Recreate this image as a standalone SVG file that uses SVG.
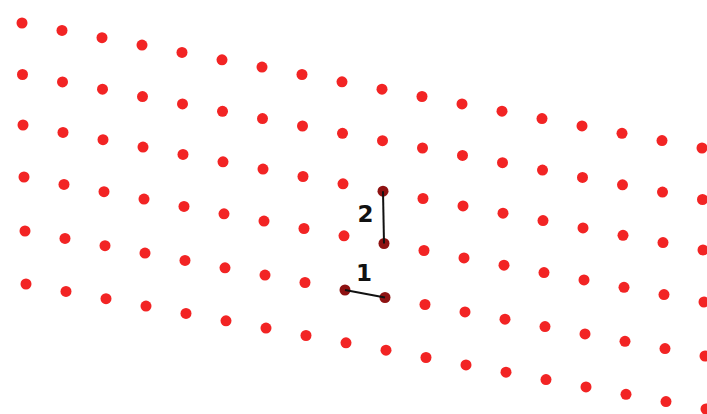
<svg xmlns="http://www.w3.org/2000/svg" width="707" height="414" viewBox="0 0 707 414">
<style>
.dot{fill:#f22424}
.mk{fill:#8e1212}
.ln{stroke:#111;stroke-width:2;fill:none}
.lb{font-family:"DejaVu Sans","Liberation Sans",sans-serif;font-weight:bold;font-size:23px;fill:#111;text-anchor:middle}
circle{r:5.5px}
</style>
<rect width="707" height="414" fill="#fff"/>
<g id="row1">
<g id="r1c1"><circle class="dot" cx="22" cy="23" r="5.5"/></g>
<g id="r1c2"><circle class="dot" cx="62" cy="30.4" r="5.5"/></g>
<g id="r1c3"><circle class="dot" cx="102" cy="37.7" r="5.5"/></g>
<g id="r1c4"><circle class="dot" cx="142" cy="45.1" r="5.5"/></g>
<g id="r1c5"><circle class="dot" cx="182" cy="52.4" r="5.5"/></g>
<g id="r1c6"><circle class="dot" cx="222" cy="59.8" r="5.5"/></g>
<g id="r1c7"><circle class="dot" cx="262" cy="67.1" r="5.5"/></g>
<g id="r1c8"><circle class="dot" cx="302" cy="74.5" r="5.5"/></g>
<g id="r1c9"><circle class="dot" cx="342" cy="81.8" r="5.5"/></g>
<g id="r1c10"><circle class="dot" cx="382" cy="89.2" r="5.5"/></g>
<g id="r1c11"><circle class="dot" cx="422" cy="96.5" r="5.5"/></g>
<g id="r1c12"><circle class="dot" cx="462" cy="103.9" r="5.5"/></g>
<g id="r1c13"><circle class="dot" cx="502" cy="111.2" r="5.5"/></g>
<g id="r1c14"><circle class="dot" cx="542" cy="118.6" r="5.5"/></g>
<g id="r1c15"><circle class="dot" cx="582" cy="125.9" r="5.5"/></g>
<g id="r1c16"><circle class="dot" cx="622" cy="133.3" r="5.5"/></g>
<g id="r1c17"><circle class="dot" cx="662" cy="140.6" r="5.5"/></g>
<g id="r1c18"><circle class="dot" cx="702" cy="148" r="5.5"/></g>
</g>
<g id="row2">
<g id="r2c1"><circle class="dot" cx="22.5" cy="74.5" r="5.5"/></g>
<g id="r2c2"><circle class="dot" cx="62.5" cy="81.9" r="5.5"/></g>
<g id="r2c3"><circle class="dot" cx="102.5" cy="89.2" r="5.5"/></g>
<g id="r2c4"><circle class="dot" cx="142.5" cy="96.6" r="5.5"/></g>
<g id="r2c5"><circle class="dot" cx="182.5" cy="103.9" r="5.5"/></g>
<g id="r2c6"><circle class="dot" cx="222.5" cy="111.3" r="5.5"/></g>
<g id="r2c7"><circle class="dot" cx="262.5" cy="118.6" r="5.5"/></g>
<g id="r2c8"><circle class="dot" cx="302.5" cy="126" r="5.5"/></g>
<g id="r2c9"><circle class="dot" cx="342.5" cy="133.3" r="5.5"/></g>
<g id="r2c10"><circle class="dot" cx="382.5" cy="140.7" r="5.5"/></g>
<g id="r2c11"><circle class="dot" cx="422.5" cy="148" r="5.5"/></g>
<g id="r2c12"><circle class="dot" cx="462.5" cy="155.4" r="5.5"/></g>
<g id="r2c13"><circle class="dot" cx="502.5" cy="162.7" r="5.5"/></g>
<g id="r2c14"><circle class="dot" cx="542.5" cy="170.1" r="5.5"/></g>
<g id="r2c15"><circle class="dot" cx="582.5" cy="177.4" r="5.5"/></g>
<g id="r2c16"><circle class="dot" cx="622.5" cy="184.8" r="5.5"/></g>
<g id="r2c17"><circle class="dot" cx="662.5" cy="192.1" r="5.5"/></g>
<g id="r2c18"><circle class="dot" cx="702.5" cy="199.5" r="5.5"/></g>
</g>
<g id="row3">
<g id="r3c1"><circle class="dot" cx="23" cy="125" r="5.5"/></g>
<g id="r3c2"><circle class="dot" cx="63" cy="132.4" r="5.5"/></g>
<g id="r3c3"><circle class="dot" cx="103" cy="139.7" r="5.5"/></g>
<g id="r3c4"><circle class="dot" cx="143" cy="147.1" r="5.5"/></g>
<g id="r3c5"><circle class="dot" cx="183" cy="154.4" r="5.5"/></g>
<g id="r3c6"><circle class="dot" cx="223" cy="161.8" r="5.5"/></g>
<g id="r3c7"><circle class="dot" cx="263" cy="169.1" r="5.5"/></g>
<g id="r3c8"><circle class="dot" cx="303" cy="176.5" r="5.5"/></g>
<g id="r3c9"><circle class="dot" cx="343" cy="183.8" r="5.5"/></g>
<g id="r3c10"><circle class="mk" cx="383" cy="191.2" r="5.5"/></g>
<g id="r3c11"><circle class="dot" cx="423" cy="198.5" r="5.5"/></g>
<g id="r3c12"><circle class="dot" cx="463" cy="205.9" r="5.5"/></g>
<g id="r3c13"><circle class="dot" cx="503" cy="213.2" r="5.5"/></g>
<g id="r3c14"><circle class="dot" cx="543" cy="220.6" r="5.5"/></g>
<g id="r3c15"><circle class="dot" cx="583" cy="227.9" r="5.5"/></g>
<g id="r3c16"><circle class="dot" cx="623" cy="235.3" r="5.5"/></g>
<g id="r3c17"><circle class="dot" cx="663" cy="242.6" r="5.5"/></g>
<g id="r3c18"><circle class="dot" cx="703" cy="250" r="5.5"/></g>
</g>
<g id="row4">
<g id="r4c1"><circle class="dot" cx="24" cy="177" r="5.5"/></g>
<g id="r4c2"><circle class="dot" cx="64" cy="184.4" r="5.5"/></g>
<g id="r4c3"><circle class="dot" cx="104" cy="191.7" r="5.5"/></g>
<g id="r4c4"><circle class="dot" cx="144" cy="199.1" r="5.5"/></g>
<g id="r4c5"><circle class="dot" cx="184" cy="206.4" r="5.5"/></g>
<g id="r4c6"><circle class="dot" cx="224" cy="213.8" r="5.5"/></g>
<g id="r4c7"><circle class="dot" cx="264" cy="221.1" r="5.5"/></g>
<g id="r4c8"><circle class="dot" cx="304" cy="228.5" r="5.5"/></g>
<g id="r4c9"><circle class="dot" cx="344" cy="235.8" r="5.5"/></g>
<g id="r4c10"><circle class="mk" cx="384" cy="243.5" r="5.5"/></g>
<g id="r4c11"><circle class="dot" cx="424" cy="250.5" r="5.5"/></g>
<g id="r4c12"><circle class="dot" cx="464" cy="257.9" r="5.5"/></g>
<g id="r4c13"><circle class="dot" cx="504" cy="265.2" r="5.5"/></g>
<g id="r4c14"><circle class="dot" cx="544" cy="272.6" r="5.5"/></g>
<g id="r4c15"><circle class="dot" cx="584" cy="279.9" r="5.5"/></g>
<g id="r4c16"><circle class="dot" cx="624" cy="287.3" r="5.5"/></g>
<g id="r4c17"><circle class="dot" cx="664" cy="294.6" r="5.5"/></g>
<g id="r4c18"><circle class="dot" cx="704" cy="302" r="5.5"/></g>
</g>
<g id="row5">
<g id="r5c1"><circle class="dot" cx="25" cy="231" r="5.5"/></g>
<g id="r5c2"><circle class="dot" cx="65" cy="238.4" r="5.5"/></g>
<g id="r5c3"><circle class="dot" cx="105" cy="245.7" r="5.5"/></g>
<g id="r5c4"><circle class="dot" cx="145" cy="253.1" r="5.5"/></g>
<g id="r5c5"><circle class="dot" cx="185" cy="260.4" r="5.5"/></g>
<g id="r5c6"><circle class="dot" cx="225" cy="267.8" r="5.5"/></g>
<g id="r5c7"><circle class="dot" cx="265" cy="275.1" r="5.5"/></g>
<g id="r5c8"><circle class="dot" cx="305" cy="282.5" r="5.5"/></g>
<g id="r5c9"><circle class="mk" cx="345" cy="290" r="5.5"/></g>
<g id="r5c10"><circle class="mk" cx="385" cy="297.5" r="5.5"/></g>
<g id="r5c11"><circle class="dot" cx="425" cy="304.5" r="5.5"/></g>
<g id="r5c12"><circle class="dot" cx="465" cy="311.9" r="5.5"/></g>
<g id="r5c13"><circle class="dot" cx="505" cy="319.2" r="5.5"/></g>
<g id="r5c14"><circle class="dot" cx="545" cy="326.6" r="5.5"/></g>
<g id="r5c15"><circle class="dot" cx="585" cy="333.9" r="5.5"/></g>
<g id="r5c16"><circle class="dot" cx="625" cy="341.3" r="5.5"/></g>
<g id="r5c17"><circle class="dot" cx="665" cy="348.6" r="5.5"/></g>
<g id="r5c18"><circle class="dot" cx="705" cy="356" r="5.5"/></g>
</g>
<g id="row6">
<g id="r6c1"><circle class="dot" cx="26" cy="284" r="5.5"/></g>
<g id="r6c2"><circle class="dot" cx="66" cy="291.4" r="5.5"/></g>
<g id="r6c3"><circle class="dot" cx="106" cy="298.7" r="5.5"/></g>
<g id="r6c4"><circle class="dot" cx="146" cy="306.1" r="5.5"/></g>
<g id="r6c5"><circle class="dot" cx="186" cy="313.4" r="5.5"/></g>
<g id="r6c6"><circle class="dot" cx="226" cy="320.8" r="5.5"/></g>
<g id="r6c7"><circle class="dot" cx="266" cy="328.1" r="5.5"/></g>
<g id="r6c8"><circle class="dot" cx="306" cy="335.5" r="5.5"/></g>
<g id="r6c9"><circle class="dot" cx="346" cy="342.8" r="5.5"/></g>
<g id="r6c10"><circle class="dot" cx="386" cy="350.2" r="5.5"/></g>
<g id="r6c11"><circle class="dot" cx="426" cy="357.5" r="5.5"/></g>
<g id="r6c12"><circle class="dot" cx="466" cy="364.9" r="5.5"/></g>
<g id="r6c13"><circle class="dot" cx="506" cy="372.2" r="5.5"/></g>
<g id="r6c14"><circle class="dot" cx="546" cy="379.6" r="5.5"/></g>
<g id="r6c15"><circle class="dot" cx="586" cy="386.9" r="5.5"/></g>
<g id="r6c16"><circle class="dot" cx="626" cy="394.3" r="5.5"/></g>
<g id="r6c17"><circle class="dot" cx="666" cy="401.6" r="5.5"/></g>
<g id="r6c18"><circle class="dot" cx="706" cy="409" r="5.5"/></g>
</g>
<g id="connectors">
<line class="ln" x1="383" y1="191.2" x2="384" y2="243.5"/>
<line class="ln" x1="345" y1="290" x2="385" y2="297.5"/>
</g>
<g id="labels">
<text class="lb" x="365.5" y="222">2</text>
<text class="lb" x="364" y="281">1</text>
</g>
</svg>
